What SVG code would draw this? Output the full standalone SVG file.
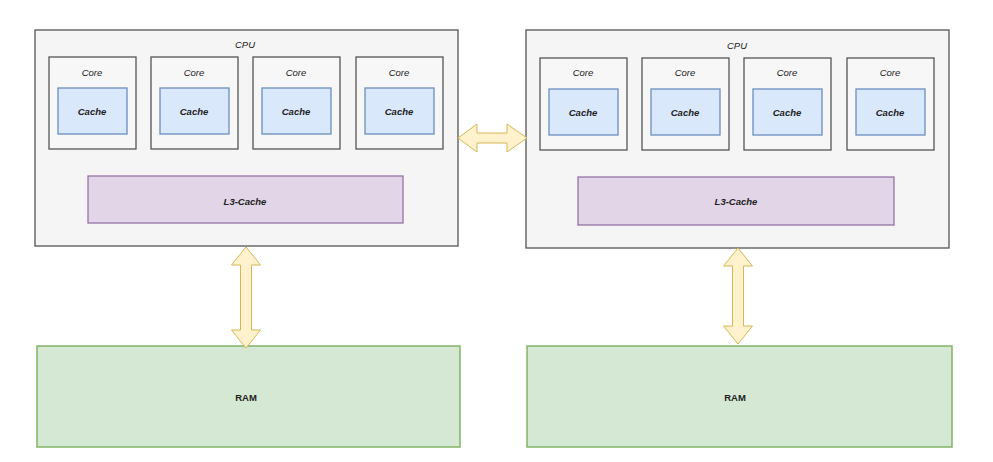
<svg xmlns="http://www.w3.org/2000/svg" width="993" height="462" viewBox="0 0 993 462">
<style>
.cpu{fill:#f5f5f5;stroke:#555;stroke-width:1.3}
.core{fill:#f7f7f7;stroke:#555;stroke-width:1.3}
.cache{fill:#dae8fc;stroke:#6c8ebf;stroke-width:1.3}
.l3{fill:#e1d5e7;stroke:#9673a6;stroke-width:1.3}
.ram{fill:#d5e8d4;stroke:#82b366;stroke-width:1.5}
.arr{fill:#fff2cc;stroke:#d6b656;stroke-width:1}
text{font-family:"Liberation Sans",Arial,sans-serif;font-size:9.5px;fill:#222;text-anchor:middle;dominant-baseline:central}
.it{font-style:italic}
.b{font-weight:bold}
</style>
<rect width="993" height="462" fill="#fff"/>
<g id="cpu1">
<rect class="cpu" x="35" y="30" width="423" height="216"/>
<text class="it" x="245" y="44">CPU</text>
</g>
<g id="core1a"><rect class="core" x="49" y="57" width="87" height="92"/><text class="it" x="92" y="72">Core</text></g>
<g id="cache1a"><rect class="cache" x="58" y="88" width="69" height="46"/><text class="it b" x="92" y="111">Cache</text></g>
<g id="core1b"><rect class="core" x="151" y="57" width="87" height="92"/><text class="it" x="194" y="72">Core</text></g>
<g id="cache1b"><rect class="cache" x="160" y="88" width="69" height="46"/><text class="it b" x="194" y="111">Cache</text></g>
<g id="core1c"><rect class="core" x="253" y="57" width="87" height="92"/><text class="it" x="296" y="72">Core</text></g>
<g id="cache1c"><rect class="cache" x="262" y="88" width="69" height="46"/><text class="it b" x="296" y="111">Cache</text></g>
<g id="core1d"><rect class="core" x="356" y="57" width="87" height="92"/><text class="it" x="399" y="72">Core</text></g>
<g id="cache1d"><rect class="cache" x="365" y="88" width="69" height="46"/><text class="it b" x="399" y="111">Cache</text></g>
<g id="l3a"><rect class="l3" x="88" y="176" width="315" height="47"/><text class="it b" x="245" y="201">L3-Cache</text></g>

<g id="cpu2">
<rect class="cpu" x="526" y="30" width="423" height="218"/>
<text class="it" x="737" y="45">CPU</text>
</g>
<g id="core2a"><rect class="core" x="540" y="58" width="87" height="92"/><text class="it" x="583" y="72">Core</text></g>
<g id="cache2a"><rect class="cache" x="549" y="89" width="69" height="46"/><text class="it b" x="583" y="112">Cache</text></g>
<g id="core2b"><rect class="core" x="642" y="58" width="87" height="92"/><text class="it" x="685" y="72">Core</text></g>
<g id="cache2b"><rect class="cache" x="651" y="89" width="69" height="46"/><text class="it b" x="685" y="112">Cache</text></g>
<g id="core2c"><rect class="core" x="744" y="58" width="87" height="92"/><text class="it" x="787" y="72">Core</text></g>
<g id="cache2c"><rect class="cache" x="753" y="89" width="69" height="46"/><text class="it b" x="787" y="112">Cache</text></g>
<g id="core2d"><rect class="core" x="847" y="58" width="87" height="92"/><text class="it" x="890" y="72">Core</text></g>
<g id="cache2d"><rect class="cache" x="856" y="89" width="69" height="46"/><text class="it b" x="890" y="112">Cache</text></g>
<g id="l3b"><rect class="l3" x="578" y="177" width="316" height="48"/><text class="it b" x="736" y="201">L3-Cache</text></g>

<g id="ram1"><rect class="ram" x="37" y="346" width="423" height="101"/><text class="b" x="246" y="397">RAM</text></g>
<g id="ram2"><rect class="ram" x="527" y="346" width="425" height="101"/><text class="b" x="735" y="397">RAM</text></g>

<g id="connectors">
<polygon class="arr" points="458,138 477,124 477,133 507,133 507,124 527,138 507,152 507,143 477,143 477,152"/>
<polygon class="arr" points="246,247 260.5,265 251.5,265 251.5,330 260.5,330 246,348 231.5,330 240.5,330 240.5,265 231.5,265"/>
<polygon class="arr" points="738,248 752.5,266 743.5,266 743.5,326 752.5,326 738,344 723.5,326 732.5,326 732.5,266 723.5,266"/>
</g>
</svg>
